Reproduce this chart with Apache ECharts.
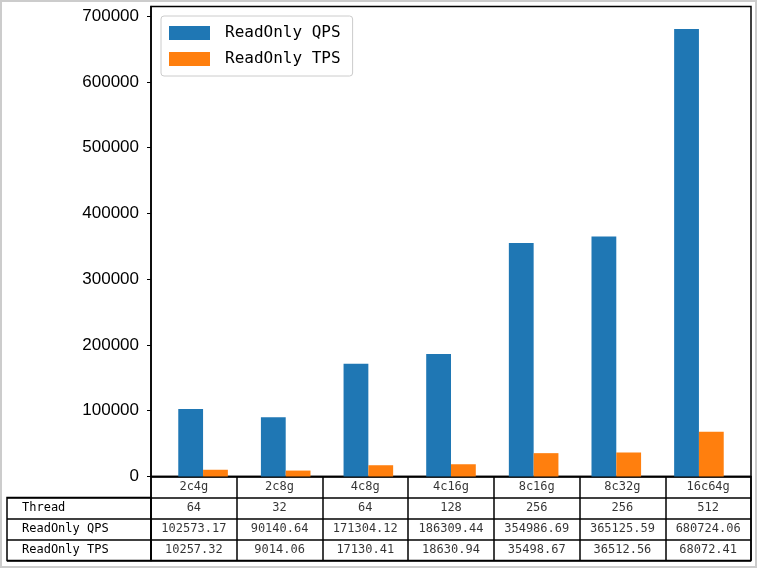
<!DOCTYPE html>
<html>
<head>
<meta charset="utf-8">
<script src="https://cdn.jsdelivr.net/npm/echarts@6/dist/echarts.min.js"></script>
<style>
html,body{margin:0;padding:0;background:#fff;}
#chart{width:757px;height:568px;}
</style>
</head>
<body>
<div id="chart"></div>
<script>
// ---- data ----
const categories = ['2c4g', '2c8g', '4c8g', '4c16g', '8c16g', '8c32g', '16c64g'];
const threads = [64, 32, 64, 128, 256, 256, 512];
const qps = [102573.17, 90140.64, 171304.12, 186309.44, 354986.69, 365125.59, 680724.06];
const tps = [10257.32, 9014.06, 17130.41, 18630.94, 35498.67, 36512.56, 68072.41];
const rowLabels = ['Thread', 'ReadOnly QPS', 'ReadOnly TPS'];
const seriesNames = ['ReadOnly QPS', 'ReadOnly TPS'];
const yMax = 714760;
const yInterval = 100000;

// ---- layout ----
const plotLeft = 151, plotWidth = 600, plotTop = 6.5, plotBottomY = 476.5;
const xMin = -0.48, xMax = 6.78, barUnit = 0.3;
const barPx = barUnit * plotWidth / (xMax - xMin);
const tableTop = 476.5, rowH = 21;
const monoFont = '"DejaVu Sans Mono", "Liberation Mono", monospace';

const tableData = [];
categories.forEach((c, i) => tableData.push([i, 0, c]));
threads.forEach((v, i) => tableData.push([i, 1, String(v)]));
qps.forEach((v, i) => tableData.push([i, 2, v.toFixed(2)]));
tps.forEach((v, i) => tableData.push([i, 3, v.toFixed(2)]));

const chart = echarts.init(document.getElementById('chart'), null, {renderer: 'canvas'});
const lineStyle = {color: '#000', width: 1.5};

chart.setOption({
  animation: false,
  backgroundColor: '#fff',
  graphic: [{
    type: 'rect', silent: true, z: 100,
    shape: {x: 1, y: 1, width: 755, height: 566},
    style: {fill: 'none', stroke: '#cccccc', lineWidth: 2}
  }],
  legend: {
    left: 161, top: 16,
    orient: 'vertical',
    data: seriesNames,
    icon: 'rect',
    itemWidth: 41, itemHeight: 14, itemGap: 8,
    padding: [8, 12, 8, 8],
    backgroundColor: 'rgba(255,255,255,0.8)',
    borderColor: '#cccccc', borderWidth: 1, borderRadius: 3,
    textStyle: {fontFamily: monoFont, fontSize: 16, color: '#000', padding: [0, 0, 0, 10], lineHeight: 18}
  },
  grid: [
    {left: plotLeft, width: plotWidth, top: plotTop, height: plotBottomY - plotTop,
     show: true, borderColor: '#000', borderWidth: 1.5, backgroundColor: '#fff'},
    {left: plotLeft, width: plotWidth, top: tableTop, height: rowH * 4,
     show: true, borderColor: '#000', borderWidth: 1.5},
    {left: 7, width: plotLeft - 7, top: tableTop + rowH, height: rowH * 3,
     show: true, borderColor: '#000', borderWidth: 1.5}
  ],
  xAxis: [
    {type: 'value', gridIndex: 0, min: xMin, max: xMax, show: false},
    {type: 'value', gridIndex: 0, min: xMin, max: xMax, show: false},
    {type: 'category', gridIndex: 1, data: categories, boundaryGap: true,
     axisLine: {show: false}, axisTick: {show: false}, axisLabel: {show: false},
     splitLine: {show: true, interval: 0, lineStyle: lineStyle}},
    {type: 'value', gridIndex: 2, show: false}
  ],
  yAxis: [
    {type: 'value', gridIndex: 0, min: 0, max: yMax, interval: yInterval,
     axisLine: {show: true, onZero: false, lineStyle: {color: '#000', width: 1.5}},
     axisTick: {show: true, length: 4, lineStyle: {color: '#000'}},
     splitLine: {show: false},
     axisLabel: {margin: 12, color: '#000', fontSize: 17, fontFamily: '"Liberation Sans", Arial, sans-serif',
       showMaxLabel: false, formatter: v => String(v)}},
    {type: 'category', gridIndex: 1, inverse: true, data: ['hdr'].concat(rowLabels), boundaryGap: true,
     axisLine: {show: false}, axisTick: {show: false}, axisLabel: {show: false},
     splitLine: {show: true, interval: 0, lineStyle: lineStyle}},
    {type: 'category', gridIndex: 2, inverse: true, data: rowLabels, boundaryGap: true,
     axisLine: {show: false}, axisTick: {show: false},
     axisLabel: {inside: true, margin: 15, align: 'left', color: '#000', fontSize: 12, fontFamily: monoFont},
     splitLine: {show: true, interval: 0, lineStyle: lineStyle}}
  ],
  series: [
    {name: seriesNames[0], type: 'bar', xAxisIndex: 0, yAxisIndex: 0, barWidth: barPx,
     itemStyle: {color: '#1f77b4'}, data: qps.map((v, i) => [i, v])},
    {name: seriesNames[1], type: 'bar', xAxisIndex: 1, yAxisIndex: 0, barWidth: barPx,
     itemStyle: {color: '#ff7f0e'}, data: tps.map((v, i) => [i + barUnit, v])},
    {type: 'scatter', xAxisIndex: 2, yAxisIndex: 1, symbol: 'rect', symbolSize: 1,
     itemStyle: {color: 'rgba(0,0,0,0)'}, silent: true,
     label: {show: true, position: 'inside', color: '#000', fontSize: 12, fontFamily: monoFont,
       formatter: p => p.data[2]},
     data: tableData}
  ]
});
</script>
</body>
</html>
